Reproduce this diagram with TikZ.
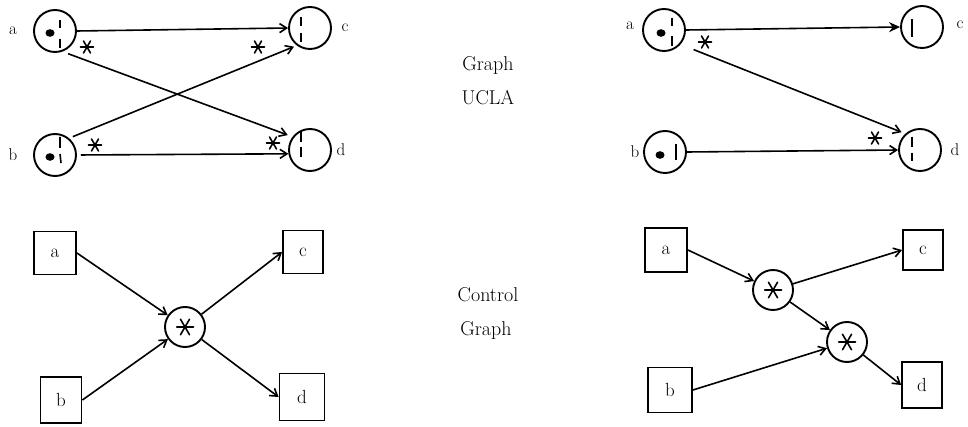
\documentclass[tikz,border=0pt]{standalone}
\usetikzlibrary{arrows.meta}
\begin{document}
\begin{tikzpicture}[x=1pt,y=-1pt,line width=1.6pt,
  st/.style={circle,draw,line width=1.9pt,minimum size=42pt,inner sep=0pt},
  sc/.style={circle,draw,line width=1.9pt,minimum size=40pt,inner sep=0pt},
  bx/.style={draw,line width=1.8pt,inner sep=0pt,font=\fontsize{19}{22}\selectfont},
  lbl/.style={font=\fontsize{17}{20}\selectfont,inner sep=0pt},
  txt/.style={font=\fontsize{20}{24}\selectfont,inner sep=0pt},
  arr/.style={-{Straight Barb[length=7pt,width=9pt,line width=1.6pt]}},
  tarr/.style={-{Stealth[length=11pt,width=10pt]}},
  aster/.pic={\draw[line width=1.6pt,line cap=round] (-6.5,0)--(6.5,0) (-3.5,-6)--(3.5,6) (3.5,-6)--(-3.5,6);}
]
\useasboundingbox (0,0) rectangle (968,427);

% ---------- top left ----------
\node[st] (A1) at (55,31) {};
\node[st] (B1) at (55,155) {};
\node[st] (C1) at (310,28) {};
\node[st] (D1) at (310,150) {};
\node[lbl] (la1) at (13,31) {a};
\node[lbl] (lb1) at (13,155) {b};
\node[lbl] (lc1) at (345,28) {c};
\node[lbl] (ld1) at (341,150) {d};
\fill (50,33) ellipse (4.5 and 3.8);
\draw (60,20)--(60,28) (60,39)--(60,48);
\fill (50,157) ellipse (4.5 and 3.8);
\draw (60,137)--(60,148) (60,154)--(61,163);
\draw (301,17)--(301,26) (301,33)--(301,42);
\draw (301,132)--(301,142) (301,147)--(301,157);

\draw[arr] (A1.east) -- (C1.west);
\draw[arr,shorten <=6pt,shorten >=5pt] (A1.-70) -- (D1.143);
\draw[arr,shorten <=4pt,shorten >=3pt] (B1.50) -- (C1.233);
\draw[arr,shorten <=4pt] (B1.east) -- (D1.190);
\pic at (87,47) {aster};
\pic at (258,47) {aster};
\pic at (95,145) {aster};
\pic at (273,143) {aster};

% ---------- top right ----------
\node[st] (A2) at (664,30) {};
\node[st] (B2) at (665,152) {};
\node[st] (C2) at (922,27) {};
\node[st] (D2) at (920,150) {};
\node[lbl] (la2) at (630,26) {a};
\node[lbl] (lb2) at (635,152) {b};
\node[lbl] (lc2) at (960,25) {c};
\node[lbl] (ld2) at (955,150) {d};
\fill (661,33) ellipse (4.5 and 3.8);
\draw (672,18)--(672,26) (672,36)--(672,46);
\fill (660,155) ellipse (4.5 and 3.8);
\draw (676,144)--(676,160);
\draw[line width=2.8pt] (912,19)--(912,37);
\draw (912,137)--(912,147) (912,153)--(912,161);

\draw[tarr] (A2.east) -- (C2.west);
\draw[arr,shorten <=14pt,shorten >=4pt] (A2.-41) -- (D2.132);
\draw[arr] (B2.east) -- (D2.west);
\pic at (705,42) {aster};
\pic at (875,138) {aster};

% ---------- bottom left ----------
\node[bx,minimum width=42pt,minimum height=43pt] (BA1) at (55,253) {a};
\node[bx,minimum width=41pt,minimum height=46pt] (BB1) at (61,400) {b};
\node[bx,minimum width=40pt,minimum height=43pt] (BC1) at (303,252) {c};
\node[bx,minimum width=45pt,minimum height=47pt] (BD1) at (302,397) {d};
\node[sc] (S1) at (185,327) {};
\pic[scale=1.3] at (S1) {aster};
\draw[arr] (BA1.east) -- (S1);
\draw[arr] (BB1.east) -- (S1);
\draw[arr] (S1) -- (BC1.west);
\draw[arr] (S1) -- (BD1.west);

% ---------- bottom right ----------
\node[bx,minimum width=42pt,minimum height=44pt] (BA2) at (666,250) {a};
\node[bx,minimum width=40pt,minimum height=40pt] (BC2) at (923,250) {c};
\node[bx,minimum width=44pt,minimum height=45pt] (BB2) at (670,390) {b};
\node[bx,minimum width=40pt,minimum height=46pt] (BD2) at (922,385) {d};
\node[sc] (S2) at (773,290) {};
\node[sc] (S3) at (847,342) {};
\pic[scale=1.3] at (S2) {aster};
\pic[scale=1.3] at (S3) {aster};
\draw[arr] (BA2.east) -- (S2);
\draw[arr] (S2) -- (BC2.west);
\draw[arr] (S2) -- (S3);
\draw[arr] (BB2.east) -- (S3);
\draw[arr] (S3) -- (BD2.west);

% ---------- middle texts ----------
\node[txt] (t1) at (488,65) {Graph};
\node[txt] (t2) at (488,98) {UCLA};
\node[txt] (t3) at (488,295) {Control};
\node[txt] (t4) at (486,330) {Graph};
\end{tikzpicture}
\end{document}
